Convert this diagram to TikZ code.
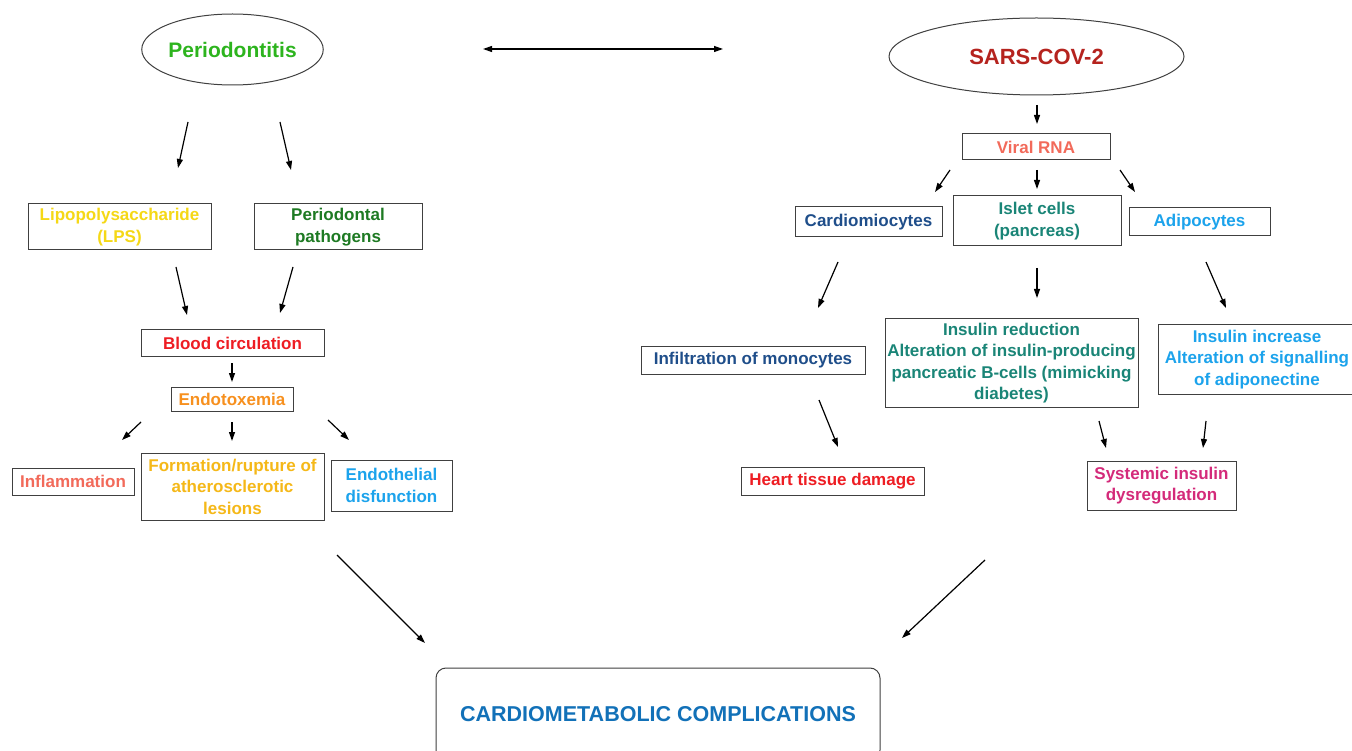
\documentclass[tikz,border=0pt]{standalone}
\usepackage{fontspec}
\setmainfont{Liberation Sans}
\usetikzlibrary{arrows.meta,shapes.geometric}
\definecolor{boxgray}{HTML}{404040}
\definecolor{perioGreen}{HTML}{2DB41E}
\definecolor{lpsYellow}{HTML}{F5D816}
\definecolor{pathGreen}{HTML}{1E7A23}
\definecolor{bloodRed}{HTML}{EE1D23}
\definecolor{endoOrange}{HTML}{F7901E}
\definecolor{inflSalmon}{HTML}{F26A5A}
\definecolor{formYellow}{HTML}{F5B818}
\definecolor{skyBlue}{HTML}{1CA3EC}
\definecolor{sarsRed}{HTML}{B5231E}
\definecolor{cardioBlue}{HTML}{1F4E8A}
\definecolor{isletTeal}{HTML}{1A8577}
\definecolor{systMagenta}{HTML}{D42A7A}
\definecolor{cmBlue}{HTML}{1271B8}
\tikzset{
  box/.style={draw=boxgray, line width=1pt, inner sep=0pt, align=center,
    font=\bfseries\fontsize{17}{21.5}\selectfont},
  oval/.style={draw=boxgray, ellipse, line width=1pt, inner sep=0pt,
    font=\bfseries\fontsize{21}{25}\selectfont},
  arr/.style={-{Triangle[length=9pt,width=6pt]}, line width=1.2pt, black},
  dbl/.style={{Triangle[length=9pt,width=6pt]}-{Triangle[length=9pt,width=6pt]}, line width=1.2pt, black}
}
\begin{document}
\begin{tikzpicture}[x=1pt,y=-1pt]
\clip (0,0) rectangle (1352,751);
\fill[white] (0,0) rectangle (1352,751);

% ---------- left side ----------
\node[oval, minimum width=169pt, minimum height=71pt, text=perioGreen] (perio) at (232.5,49.5) {Periodontitis};
\node[box, minimum width=183pt, minimum height=46pt, text=lpsYellow] (lps) at (119.5,227) {Lipopolysaccharide\\(LPS)};
\node[box, minimum width=168pt, minimum height=46pt, text=pathGreen] (path) at (338,227) {Periodontal\\pathogens};
\node[box, minimum width=183pt, minimum height=26pt, text=bloodRed] (blood) at (232.5,343) {Blood circulation};
\node[box, minimum width=122pt, minimum height=24pt, text=endoOrange] (endo) at (232,399) {Endotoxemia};
\node[box, minimum width=122pt, minimum height=27pt, text=inflSalmon] (infl) at (73,481.5) {Inflammation};
\node[box, minimum width=183pt, minimum height=67pt, text=formYellow] (form) at (232.5,486.5) {Formation/rupture of\\atherosclerotic\\lesions};
\node[box, minimum width=121pt, minimum height=51pt, text=skyBlue] (endoth) at (391.5,485.5) {Endothelial\\disfunction};

% ---------- right side ----------
\node[oval, minimum width=295pt, minimum height=77pt, text=sarsRed, font=\bfseries\fontsize{22}{26}\selectfont] (sars) at (1036.5,56.5) {SARS-COV-2};
\node[box, minimum width=148pt, minimum height=26pt, text=inflSalmon] (viral) at (1036,147) {Viral RNA};
\node[box, minimum width=147pt, minimum height=30pt, text=cardioBlue] (cardio) at (868.5,222) {Cardiomiocytes};
\node[box, minimum width=168pt, minimum height=50pt, text=isletTeal] (islet) at (1037,221) {Islet cells\\(pancreas)};
\node[box, minimum width=141pt, minimum height=28pt, text=skyBlue] (adipo) at (1199.5,222) {Adipocytes};
\node[box, minimum width=224pt, minimum height=28pt, text=cardioBlue] (infil) at (753,360) {Infiltration of monocytes};
\node[box, minimum width=253pt, minimum height=88pt, text=isletTeal] (insred) at (1011.5,363) {Insulin reduction\\Alteration of insulin-producing\\pancreatic B-cells (mimicking\\diabetes)};
\node[box, minimum width=198pt, minimum height=69pt, text=skyBlue] (insinc) at (1257,359.5) {Insulin increase\\Alteration of signalling\\of adiponectine};
\node[box, minimum width=183pt, minimum height=28pt, text=bloodRed] (heart) at (832.5,481) {Heart tissue damage};
\node[box, minimum width=149pt, minimum height=49pt, text=systMagenta] (syst) at (1161.5,485.5) {Systemic insulin\\dysregulation};

% ---------- bottom ----------
\node[box, rounded corners=10pt, minimum width=444pt, minimum height=92pt, text=cmBlue, font=\bfseries\fontsize{21.5}{25}\selectfont] (cm) at (658,714) {CARDIOMETABOLIC COMPLICATIONS};

% ---------- arrow end points ----------
\coordinate (d1) at (483,49);   \coordinate (d2) at (723,49);
\coordinate (p1s) at (188,122); \coordinate (p1e) at (178,168);
\coordinate (p2s) at (280,122); \coordinate (p2e) at (291,170);
\coordinate (l1s) at (176,267); \coordinate (l1e) at (187,315);
\coordinate (l2s) at (293,267); \coordinate (l2e) at (280,313);
\coordinate (b1s) at (232,363); \coordinate (b1e) at (232,382);
\coordinate (e1s) at (141,422); \coordinate (e1e) at (122,440);
\coordinate (e2s) at (232,422); \coordinate (e2e) at (232,441);
\coordinate (e3s) at (328,420); \coordinate (e3e) at (349,440);
\coordinate (s1s) at (1037,105); \coordinate (s1e) at (1037,124);
\coordinate (v1s) at (950,170); \coordinate (v1e) at (935,192);
\coordinate (v2s) at (1037,170); \coordinate (v2e) at (1037,189);
\coordinate (v3s) at (1120,170); \coordinate (v3e) at (1135,192);
\coordinate (c1s) at (838,262); \coordinate (c1e) at (818,308);
\coordinate (i1s) at (1037,268); \coordinate (i1e) at (1037,298);
\coordinate (a1s) at (1206,262); \coordinate (a1e) at (1226,308);
\coordinate (m1s) at (819,400); \coordinate (m1e) at (838,447);
\coordinate (r1s) at (1099,421); \coordinate (r1e) at (1106,448);
\coordinate (n1s) at (1206,421); \coordinate (n1e) at (1203,448);
\coordinate (bl1) at (337,555); \coordinate (bl2) at (425,643);
\coordinate (br1) at (985,560); \coordinate (br2) at (902,638);

\draw[dbl] (d1) -- (d2);
\draw[arr] (p1s) -- (p1e);
\draw[arr] (p2s) -- (p2e);
\draw[arr] (l1s) -- (l1e);
\draw[arr] (l2s) -- (l2e);
\draw[arr] (b1s) -- (b1e);
\draw[arr] (e1s) -- (e1e);
\draw[arr] (e2s) -- (e2e);
\draw[arr] (e3s) -- (e3e);
\draw[arr] (s1s) -- (s1e);
\draw[arr] (v1s) -- (v1e);
\draw[arr] (v2s) -- (v2e);
\draw[arr] (v3s) -- (v3e);
\draw[arr] (c1s) -- (c1e);
\draw[arr] (i1s) -- (i1e);
\draw[arr] (a1s) -- (a1e);
\draw[arr] (m1s) -- (m1e);
\draw[arr] (r1s) -- (r1e);
\draw[arr] (n1s) -- (n1e);
\draw[arr] (bl1) -- (bl2);
\draw[arr] (br1) -- (br2);
\end{tikzpicture}
\end{document}
